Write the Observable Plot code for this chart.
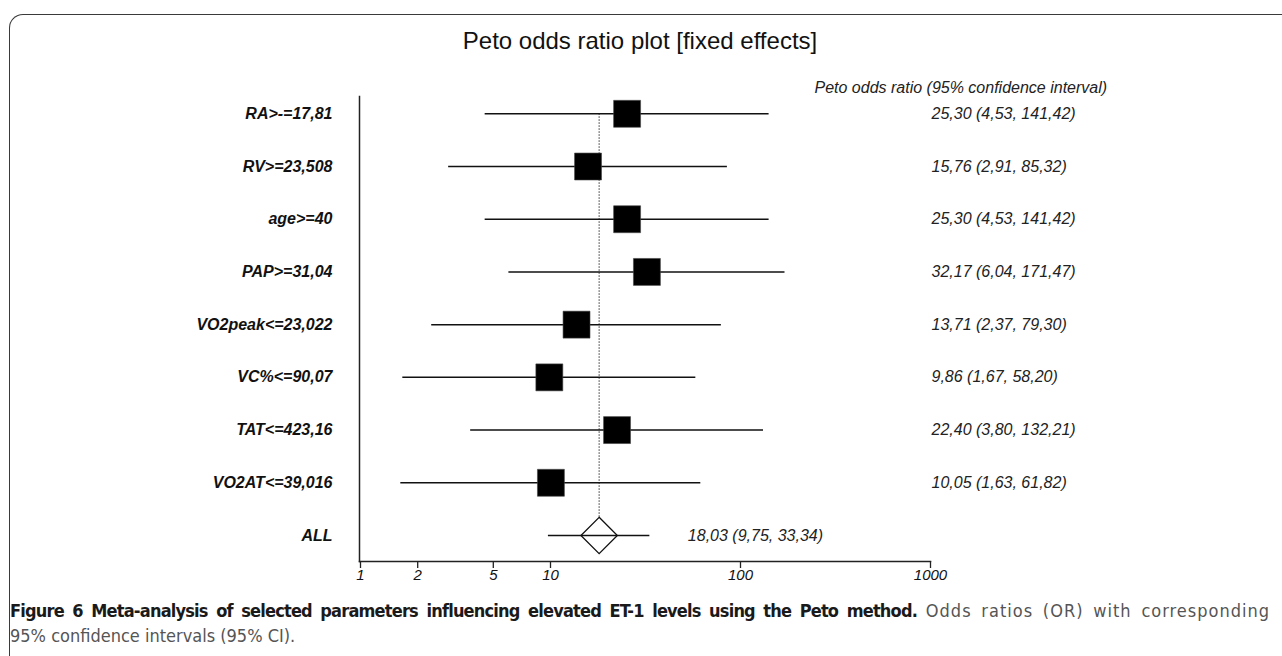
<!DOCTYPE html>
<html>
<head>
<meta charset="utf-8">
<script src="https://cdn.jsdelivr.net/npm/d3@7"></script>
<script src="https://cdn.jsdelivr.net/npm/@observablehq/plot@0.6"></script>
<style>
  html, body { margin: 0; padding: 0; background: #fff; }
  body { width: 1282px; height: 656px; overflow: hidden; position: relative; font-family: "Liberation Sans", Arial, sans-serif; }
  #frame { position: absolute; left: 9px; top: 14px; width: 1400px; height: 800px;
           border-left: 1.5px solid #3a3a3a; border-top: 1.5px solid #3a3a3a; border-top-left-radius: 14px; box-sizing: border-box; }
  #title { position: absolute; left: 0; top: 28px; width: 1280px; text-align: center; font-size: 24px; line-height: 26px; color: #111; }
  #chart { position: absolute; left: 0; top: 0; }
  .cap { position: absolute; left: 10px; width: 1260px; font-family: "DejaVu Sans Condensed", "Liberation Sans Narrow", sans-serif;
         font-size: 18px; line-height: 22px; color: #555; white-space: nowrap; }
  #cap1 { top: 600px; text-align: justify; text-align-last: justify; white-space: normal; }
  #cap1 b { letter-spacing: -0.8px; }
  #cap1 span { letter-spacing: 1px; }
  #cap2 { top: 625px; }
  .cap b { color: #1a1a1a; }
</style>
</head>
<body>
<div id="frame"></div>
<div id="title">Peto odds ratio plot [fixed effects]</div>
<div id="chart"></div>
<div id="cap1" class="cap"><b>Figure 6 Meta-analysis of selected parameters influencing elevated ET-1 levels using the Peto method.</b> <span>Odds ratios (OR) with corresponding</span></div>
<div id="cap2" class="cap">95% confidence intervals (95% CI).</div>
<script>
// ---- data ----
const labels = ["RA>-=17,81", "RV>=23,508", "age>=40", "PAP>=31,04", "VO2peak<=23,022",
                "VC%<=90,07", "TAT<=423,16", "VO2AT<=39,016", "ALL"];
const oddsRatio = [25.30, 15.76, 25.30, 32.17, 13.71, 9.86, 22.40, 10.05, 18.03];
const ciLow     = [4.53, 2.91, 4.53, 6.04, 2.37, 1.67, 3.80, 1.63, 9.75];
const ciHigh    = [141.42, 85.32, 141.42, 171.47, 79.30, 58.20, 132.21, 61.82, 33.34];
const ciText    = ["25,30 (4,53, 141,42)", "15,76 (2,91, 85,32)", "25,30 (4,53, 141,42)",
                   "32,17 (6,04, 171,47)", "13,71 (2,37, 79,30)", "9,86 (1,67, 58,20)",
                   "22,40 (3,80, 132,21)", "10,05 (1,63, 61,82)", "18,03 (9,75, 33,34)"];
const xTicks = [1, 2, 5, 10, 100, 1000];
const xTickLabels = ["1", "2", "5", "10", "100", "1000"];
const columnHeader = "Peto odds ratio (95% confidence interval)";

const rows = labels.map((label, i) => ({label, i, or: oddsRatio[i], lo: ciLow[i], hi: ciHigh[i], text: ciText[i]}));
const studies = rows.filter(d => d.label !== "ALL");
const pooled = rows.filter(d => d.label === "ALL");
const tickRows = xTicks.map((v, k) => ({v, label: xTickLabels[k]}));

const chart = Plot.plot({
  width: 1282,
  height: 600,
  marginLeft: 359,
  marginRight: 352,
  marginTop: 96,
  marginBottom: 39,
  x: {type: "log", domain: [1, 1000], range: [360, 930]},
  y: {domain: [0, labels.length - 1], range: [113.3, 535], axis: null},
  style: {fontFamily: "'Liberation Sans', Arial, sans-serif", color: "#111", background: "transparent", overflow: "visible"},
  marks: [
    Plot.frame({anchor: "left", stroke: "#222", strokeWidth: 1.5}),
    Plot.frame({anchor: "bottom", stroke: "#222", strokeWidth: 1.5}),
    Plot.axisX({ticks: xTicks, tickFormat: () => "", tickSize: 7, stroke: "#222", strokeWidth: 1.3, label: null}),
    Plot.text(tickRows, {x: "v", text: "label", frameAnchor: "bottom", dy: 18, fontSize: 15, fontStyle: "italic", fill: "#111"}),
    // reference line at pooled estimate
    Plot.ruleX(pooled, {x: "or", y1: 0, y2: "i", stroke: "#333", strokeWidth: 1, strokeDasharray: "1.5,1.5"}),
    // study whiskers and squares
    Plot.ruleY(studies, {y: "i", x1: "lo", x2: "hi", stroke: "#111", strokeWidth: 1.5}),
    Plot.dot(studies, {x: "or", y: "i", symbol: "square", r: 15.2, fill: "#000", stroke: "#444", strokeWidth: 0.6}),
    // pooled diamond and whisker
    Plot.dot(pooled, {x: "or", y: "i", symbol: "diamond2", r: 16.4, fill: "white", stroke: "#111", strokeWidth: 1.3}),
    Plot.ruleY(pooled, {y: "i", x1: "lo", x2: "hi", stroke: "#111", strokeWidth: 1.5}),
    // row labels
    Plot.text(rows, {y: "i", text: "label", frameAnchor: "left", dx: -27, textAnchor: "end",
                     fontSize: 16, fontWeight: "bold", fontStyle: "italic", fill: "#111"}),
    // column of estimates
    Plot.text(studies, {y: "i", text: "text", frameAnchor: "right", dx: 1, textAnchor: "start",
                        fontSize: 16, fontStyle: "italic", fill: "#222"}),
    Plot.text(pooled, {x: "hi", y: "i", text: "text", dx: 38, textAnchor: "start",
                       fontSize: 16, fontStyle: "italic", fill: "#222"}),
    Plot.text([columnHeader], {frameAnchor: "top-right", dx: -116, dy: -15, textAnchor: "start",
                               fontSize: 16, fontStyle: "italic", fill: "#222"})
  ]
});
document.getElementById("chart").appendChild(chart);
</script>
</body>
</html>
